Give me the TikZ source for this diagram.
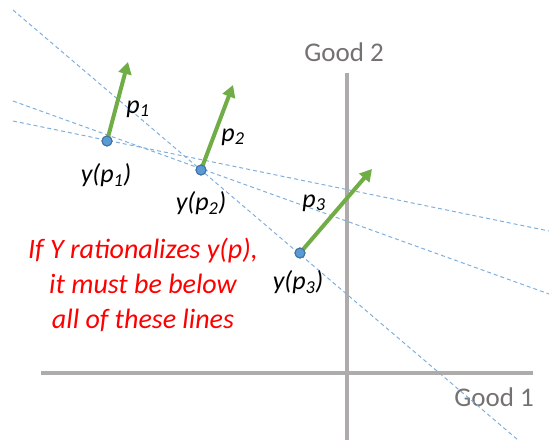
\documentclass[tikz,border=0pt]{standalone}
\usepackage{fontspec}
\setmainfont{Carlito}
\usetikzlibrary{arrows.meta}
\definecolor{axisgray}{HTML}{AFABAB}
\definecolor{dashblue}{HTML}{7FB0DD}
\definecolor{pgreen}{HTML}{70AD47}
\definecolor{dotblue}{HTML}{5B9BD5}
\definecolor{dotedge}{HTML}{41719C}
\definecolor{labgray}{HTML}{767171}
\begin{document}
\begin{tikzpicture}[x=1pt,y=-1pt,
  axis/.style={draw=axisgray,line width=4pt},
  dashline/.style={draw=dashblue,line width=1pt,dash pattern=on 4pt off 3pt},
  price/.style={draw=pgreen,line width=4pt,-{Triangle[length=12pt,width=13pt]}},
  dot/.style={circle,fill=dotblue,draw=dotedge,line width=1pt,minimum size=10pt,inner sep=0pt},
  lbl/.style={font=\fontsize{26}{30}\selectfont\itshape,text=black,inner sep=0pt},
  axlbl/.style={font=\fontsize{27}{30}\selectfont,text=labgray,inner sep=0pt},
  note/.style={font=\fontsize{28}{35}\selectfont\itshape,text=red,align=center,inner sep=0pt}
]
\useasboundingbox (0,0) rectangle (549,440);
% axes
\coordinate (hl) at (41,373);
\coordinate (hr) at (533,373);
\coordinate (vt) at (347,73);
\coordinate (vb) at (347,440);
\draw[axis] (hl) -- (hr);
\draw[axis] (vt) -- (vb);
\node[axlbl] (g2) at (344,52) {Good 2};
\node[axlbl] (g1) at (494,397) {Good 1};
% dashed budget lines
\coordinate (a1) at (13,121);
\coordinate (b1) at (549,231);
\coordinate (a2) at (13,101);
\coordinate (b2) at (549,294);
\coordinate (a3) at (13,10);
\coordinate (b3) at (518,440);
\draw[dashline] (a1) -- (b1);
\draw[dashline] (a2) -- (b2);
\draw[dashline] (a3) -- (b3);
% price arrows and points
\node[dot] (y1) at (107,141) {};
\node[dot] (y2) at (201,170) {};
\node[dot] (y3) at (300,253) {};
\coordinate (t1) at (128,62);
\coordinate (t2) at (233,85);
\coordinate (t3) at (372,169);
\draw[price] (y1.center) -- (t1);
\draw[price] (y2.center) -- (t2);
\draw[price] (y3.center) -- (t3);
\node[dot] at (y1) {};
\node[dot] at (y2) {};
\node[dot] at (y3) {};
% labels
\node[lbl] (lp1) at (138,109) {p\textsubscript{1}};
\node[lbl] (lp2) at (233,137) {p\textsubscript{2}};
\node[lbl] (lp3) at (314,203) {p\textsubscript{3}};
\node[lbl] (ly1) at (106,175) {y(p\textsubscript{1})};
\node[lbl] (ly2) at (201,203) {y(p\textsubscript{2})};
\node[lbl] (ly3) at (298,282) {y(p\textsubscript{3})};
\node[note] (txt) at (143,285) {If Y rationalizes y(p),\\it must be below\\all of these lines};
\end{tikzpicture}
\end{document}
